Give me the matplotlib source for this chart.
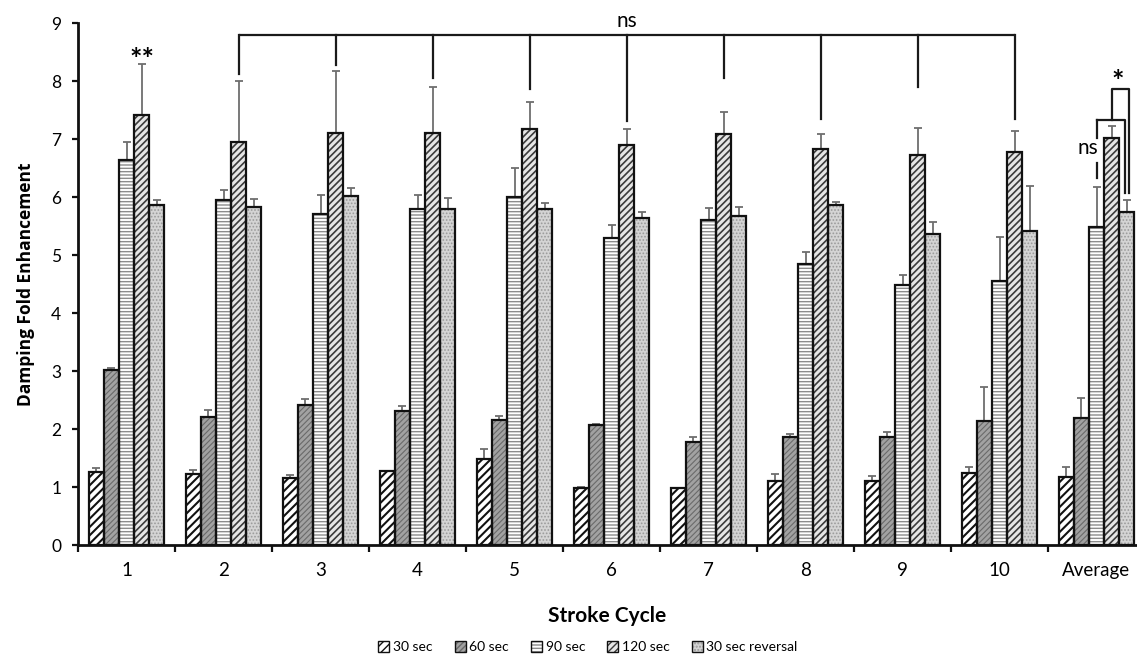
import matplotlib
matplotlib.use("Agg")
import matplotlib.pyplot as plt
import numpy as np
from matplotlib.patches import Patch
from matplotlib.legend_handler import HandlerTuple

# ---------------- data ----------------
groups = ['1', '2', '3', '4', '5', '6', '7', '8', '9', '10', 'Average']
series = ['30 sec', '60 sec', '90 sec', '120 sec', '30 sec reversal']

s30 = [1.26, 1.22, 1.16, 1.28, 1.48, 0.99, 0.99, 1.10, 1.11, 1.24, 1.18]
s30_err = [0.06, 0.08, 0.05, 0.00, 0.17, 0.01, 0.00, 0.12, 0.08, 0.10, 0.16]
s60 = [3.01, 2.20, 2.42, 2.31, 2.15, 2.07, 1.78, 1.86, 1.87, 2.14, 2.19]
s60_err = [0.05, 0.13, 0.10, 0.09, 0.07, 0.02, 0.08, 0.06, 0.07, 0.58, 0.35]
s90 = [6.63, 5.94, 5.70, 5.79, 6.00, 5.30, 5.60, 4.84, 4.48, 4.56, 5.49]
s90_err = [0.31, 0.18, 0.34, 0.24, 0.50, 0.22, 0.21, 0.22, 0.18, 0.75, 0.68]
s120 = [7.41, 6.95, 7.11, 7.11, 7.18, 6.89, 7.08, 6.82, 6.72, 6.78, 7.01]
s120_err = [0.88, 1.05, 1.06, 0.79, 0.46, 0.29, 0.39, 0.26, 0.47, 0.35, 0.21]
srev = [5.86, 5.82, 6.02, 5.80, 5.80, 5.63, 5.68, 5.86, 5.37, 5.41, 5.74]
srev_err = [0.08, 0.15, 0.14, 0.19, 0.10, 0.12, 0.15, 0.06, 0.20, 0.78, 0.21]

values = [s30, s60, s90, s120, srev]
errors = [s30_err, s60_err, s90_err, s120_err, srev_err]

# significance bracket (top "ns"): lower ends of the drops for cycles 2..10
drop_groups = [1, 2, 3, 4, 5, 6, 7, 8, 9]
drop_ends = [8.12, 8.27, 8.05, 7.87, 7.31, 8.05, 7.34, 7.90, 7.35]
bracket_top = 8.80

# ---------------- style ----------------
faces = ['white', '#a2a2a2', 'white', '#e6e6e6', '#d4d4d4']
hatches = ['////', '//////', '-----', '/////', '.....']
hatch_cols = ['#111111', '#6a6a6a', '#8c8c8c', '#3a3a3a', '#9a9a9a']
hatch_lws = [1.5, 0.8, 1.0, 1.2, 0.8]

FONT = ['Lato', 'DejaVu Sans']
plt.rcParams['font.family'] = FONT

fig = plt.figure(figsize=(11.37, 6.56), dpi=100)
W, H = 1137, 656
ax_left, ax_bottom, ax_top = 78, 111, 23
ax = fig.add_axes([ax_left / W, ax_bottom / H, 1 - ax_left / W, (H - ax_bottom - ax_top) / H])

gpx = 97.0  # px per group
x = np.arange(len(groups))
bw = 0.155
offs = (np.arange(5) - 2) * 0.156

legend_handles = []
for k in range(5):
    xs = x + offs[k]
    bars = ax.bar(xs, values[k], width=bw, color=faces[k], edgecolor=hatch_cols[k],
                  hatch=hatches[k], linewidth=0, zorder=2)
    for b in bars:
        if hasattr(b, 'set_hatch_linewidth'):
            b.set_hatch_linewidth(hatch_lws[k])
    ax.bar(xs, values[k], width=bw, fill=False, edgecolor='#111111', linewidth=1.6, zorder=3)
    ax.errorbar(xs, values[k], yerr=[np.zeros(len(groups)), errors[k]], fmt='none',
                ecolor='#6e6e6e', elinewidth=1.3, capsize=3, capthick=1.3, zorder=1)
    hp = Patch(facecolor=faces[k], edgecolor=hatch_cols[k], hatch=hatches[k], linewidth=0)
    if hasattr(hp, 'set_hatch_linewidth'):
        hp.set_hatch_linewidth(hatch_lws[k])
    hb = Patch(facecolor='none', edgecolor='#111111', linewidth=1.0)
    legend_handles.append((hp, hb))

# axes
ax.set_ylim(0, 9)
ax.set_xlim(-0.5, -0.5 + (W - ax_left) / gpx)
ax.set_yticks(range(10))
ax.set_xticks(np.arange(len(groups)) - 0.5)
ax.set_xticklabels([])
ax.set_xticks(x, minor=True)
ax.set_xticklabels(groups, minor=True)
ax.tick_params(axis='x', which='minor', length=0, pad=12, labelsize=13.5)
ax.tick_params(axis='x', which='major', length=5, width=1.6, direction='out', color='#111111')
ax.tick_params(axis='y', length=4, width=1.6, direction='out', labelsize=12.5, pad=8, color='#111111')
for s in ['top', 'right']:
    ax.spines[s].set_visible(False)
for s in ['left', 'bottom']:
    ax.spines[s].set_linewidth(2.0)
    ax.spines[s].set_color('#111111')

ax.set_ylabel('Damping Fold Enhancement', fontsize=12.5, fontweight='bold', labelpad=12,
              family=['Open Sans', 'DejaVu Sans'])
ax.set_xlabel('Stroke Cycle', fontsize=15, fontweight='bold', labelpad=20)

# top "ns" bracket
lc = '#1a1a1a'
lw = 1.6
x120 = x + offs[3]
ax.plot([x120[drop_groups[0]], x120[drop_groups[-1]]], [bracket_top, bracket_top],
        color=lc, lw=lw, clip_on=False, solid_capstyle='butt', zorder=4)
for g, e in zip(drop_groups, drop_ends):
    ax.plot([x120[g], x120[g]], [bracket_top, e], color=lc, lw=lw, clip_on=False, zorder=4)
ax.text(x120[5], 9.03, 'ns', ha='center', va='center', fontsize=15, clip_on=False)

# "**" over cycle 1
ax.text(x120[0], 8.36, '**', ha='center', va='center', fontsize=21, fontweight='bold')

# average brackets
ga = 10
xa90 = ga + offs[2]
xa120 = ga + offs[3]
xarev = ga + offs[4]
d = 2.0 / gpx
ns_top, st_top, low = 7.32, 7.86, 6.07
ax.plot([xa90, xa90], [ns_top, 7.02], color=lc, lw=lw, zorder=4)
ax.plot([xa90, xa90], [6.59, 6.33], color=lc, lw=lw, zorder=4)
ax.plot([xa90, xarev - d, xarev - d], [ns_top, ns_top, low], color=lc, lw=lw, zorder=4)
ax.plot([xa120, xa120, xarev + d, xarev + d], [ns_top, st_top, st_top, low], color=lc, lw=lw,
        zorder=4)
ax.text(xa90 - 8.5 / gpx, 6.84, 'ns', ha='center', va='center', fontsize=15, zorder=5)
ax.text(ga + 0.22, 7.98, '*', ha='center', va='center', fontsize=21, fontweight='bold')

fig.legend(legend_handles, series, handler_map={tuple: HandlerTuple(ndivide=1, pad=0)},
           loc='center', bbox_to_anchor=(588 / W, 1 - 647 / H), ncol=5, frameon=False,
           fontsize=10, handlelength=0.8, handleheight=0.8, handletextpad=0.25,
           columnspacing=1.6)

fig.savefig('out.png', dpi=100)
